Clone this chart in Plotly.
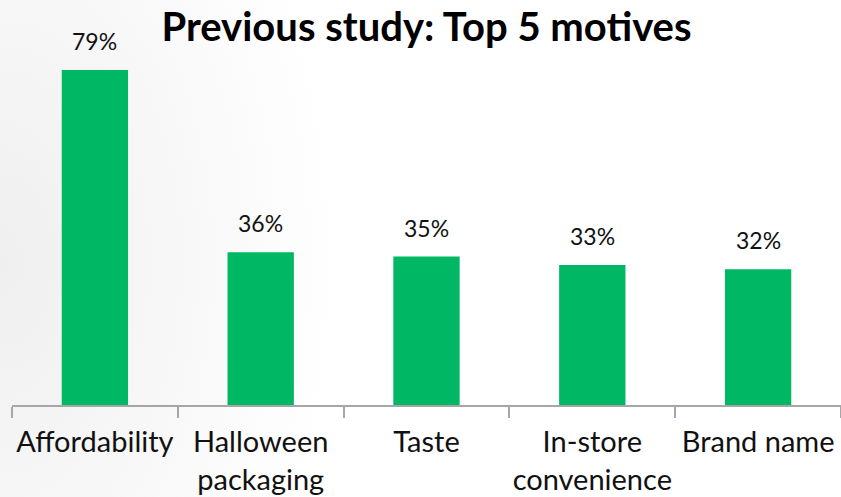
import base64
import plotly.graph_objects as go

# Survey results: share of respondents citing each motive
motives = ["Affordability", "Halloween<br>packaging", "Taste", "In-store<br>convenience", "Brand name"]
shares = [79, 36, 35, 33, 32]
share_labels = [f"{v}%" for v in shares]

W, H = 841, 497
M_L, M_R, M_T, M_B = 12, 0, 40, 92
PW, PH = W - M_L - M_R, H - M_T - M_B

# Soft grey wash fading in from the left edge of the slide
svg = f"""<svg xmlns='http://www.w3.org/2000/svg' width='{W}' height='{H}'>
<defs><radialGradient id='g' gradientUnits='userSpaceOnUse' cx='0' cy='260' r='340'
gradientTransform='translate(0,260) scale(1,1.6) translate(0,-260)'>
<stop offset='0' stop-color='#efefef'/><stop offset='1' stop-color='#ffffff'/></radialGradient></defs>
<rect width='{W}' height='{H}' fill='url(#g)'/></svg>"""
bg_uri = "data:image/svg+xml;base64," + base64.b64encode(svg.encode()).decode()

fig = go.Figure(
    go.Bar(
        x=motives,
        y=shares,
        marker=dict(color="#00b863", line=dict(width=0)),
        hoverinfo="x+y",
    )
)

# Value labels sitting above each bar
for m, v, lab in zip(motives, shares, share_labels):
    fig.add_annotation(
        x=m,
        y=v,
        text=lab,
        showarrow=False,
        yanchor="middle",
        yshift=29,
        font=dict(family="Lato", size=23, color="#111111"),
    )

fig.update_layout(
    width=W,
    height=H,
    margin=dict(l=M_L, r=M_R, t=M_T, b=M_B, pad=0, autoexpand=False),
    paper_bgcolor="white",
    plot_bgcolor="rgba(0,0,0,0)",
    bargap=0.6,
    showlegend=False,
    title=dict(
        text="<b>Previous study: Top 5 motives</b>",
        font=dict(family="Lato", size=40, color="#000000"),
        x=0.5,
        xanchor="center",
        xref="paper",
        y=1 - 27 / H,
        yanchor="middle",
    ),
    images=[
        dict(
            source=bg_uri,
            xref="paper",
            yref="paper",
            x=-M_L / PW,
            y=1 + M_T / PH,
            sizex=W / PW,
            sizey=H / PH,
            xanchor="left",
            yanchor="top",
            sizing="stretch",
            layer="below",
        )
    ],
)

fig.update_xaxes(
    showline=True,
    linecolor="#a6a6a6",
    linewidth=2,
    ticks="outside",
    tickson="boundaries",
    ticklen=11,
    tickwidth=2,
    tickcolor="#a6a6a6",
    tickangle=0,
    automargin=False,
    tickfont=dict(family="Lato", size=29, color="#111111"),
    ticklabelstandoff=10,
    showgrid=False,
)
fig.update_yaxes(range=[0, PH / 4.24], visible=False, showgrid=False, automargin=False)

fig.write_html("out.html")
